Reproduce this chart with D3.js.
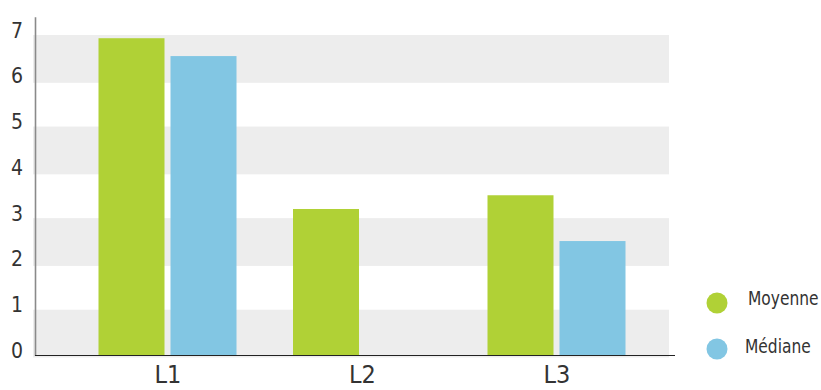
<!DOCTYPE html>
<html>
<head>
<meta charset="utf-8">
<script src="https://cdn.jsdelivr.net/npm/d3@7"></script>
<style>
  html, body { margin: 0; padding: 0; background: #fff; }
  svg { display: block; }
  text { font-family: "Liberation Sans Narrow", "DejaVu Sans Condensed", "Roboto", sans-serif; fill: #333; }
</style>
</head>
<body>
<svg id="chart" width="821" height="390"></svg>
<script>
// ---- data ----
const categories = ["L1", "L2", "L3"];
const seriesNames = ["Moyenne", "Médiane"];
const moyenne = [6.93, 3.2, 3.5];
const mediane = [6.54, null, 2.5];
const yTicks = [0, 1, 2, 3, 4, 5, 6, 7];
const seriesColors = ["#b0d136", "#82c6e3"];

// ---- layout ----
const plotLeft = 35, plotRight = 675, bandRight = 669;
const yBottom = 355.5, yTop = 16.7;
const fontStack = "'Liberation Sans Narrow', 'DejaVu Sans Condensed', sans-serif";

const svg = d3.select("#chart");

const y = d3.scaleLinear().domain([0, 7.4]).range([yBottom, yTop]);
const x0 = d3.scalePoint().domain(categories).range([167.5, 556.5]);
const x1 = d3.scaleBand().domain(seriesNames).range([-69, 69]).paddingInner(1 / 12);
const color = d3.scaleOrdinal().domain(seriesNames).range(seriesColors);

// gray bands
const bandStarts = yTicks.filter(v => v % 2 === 0 && v < 7);
svg.append("g").selectAll("rect").data(bandStarts).join("rect")
  .attr("x", plotLeft - 2)
  .attr("width", bandRight - plotLeft + 2)
  .attr("y", d => y(d + 1))
  .attr("height", d => y(d) - y(d + 1) + 2)
  .attr("fill", "#ededed");

// bars
const rows = categories.map((c, i) => ({ cat: c, values: [moyenne[i], mediane[i]] }));
const groups = svg.append("g").selectAll("g").data(rows).join("g")
  .attr("transform", d => `translate(${x0(d.cat)},0)`);
groups.selectAll("rect")
  .data(d => seriesNames.map((s, j) => ({ s, v: d.values[j] })).filter(e => e.v != null))
  .join("rect")
  .attr("x", d => x1(d.s))
  .attr("width", x1.bandwidth())
  .attr("y", d => y(d.v))
  .attr("height", d => y(0) - y(d.v))
  .attr("fill", d => color(d.s));

// y axis
const yAxis = svg.append("g").attr("transform", `translate(${plotLeft},0)`)
  .call(d3.axisLeft(y).tickValues(yTicks).tickSize(0).tickPadding(12).tickFormat(d3.format("d")));
yAxis.select(".domain").attr("stroke", "#8a8a8a").attr("stroke-width", 1.6);
yAxis.selectAll(".tick text")
  .style("font-family", fontStack)
  .attr("font-size", 21).attr("fill", "#333")
  .attr("dy", null).attr("y", 2);

// x axis line
svg.append("line")
  .attr("x1", plotLeft).attr("x2", plotRight)
  .attr("y1", yBottom).attr("y2", yBottom)
  .attr("stroke", "#222").attr("stroke-width", 1.2);

// x labels
const xAxis = svg.append("g").attr("transform", `translate(0,${yBottom})`)
  .call(d3.axisBottom(x0).tickSize(0).tickPadding(0));
xAxis.select(".domain").remove();
xAxis.selectAll(".tick text")
  .style("font-family", fontStack)
  .attr("font-size", 25).attr("fill", "#333")
  .attr("dy", null).attr("y", 27);

// legend
const legendY = [303, 349];
const legendTextX = [748, 745];
const legend = svg.append("g");
seriesNames.forEach((s, i) => {
  legend.append("circle").attr("cx", 717).attr("cy", legendY[i]).attr("r", 10.5).attr("fill", color(s));
  legend.append("text")
    .attr("transform", `translate(${legendTextX[i]},${legendY[i] + (i === 0 ? 2 : 4)}) scale(0.86,1)`)
    .style("font-family", fontStack)
    .attr("font-size", 20).text(s);
});
</script>
</body>
</html>
